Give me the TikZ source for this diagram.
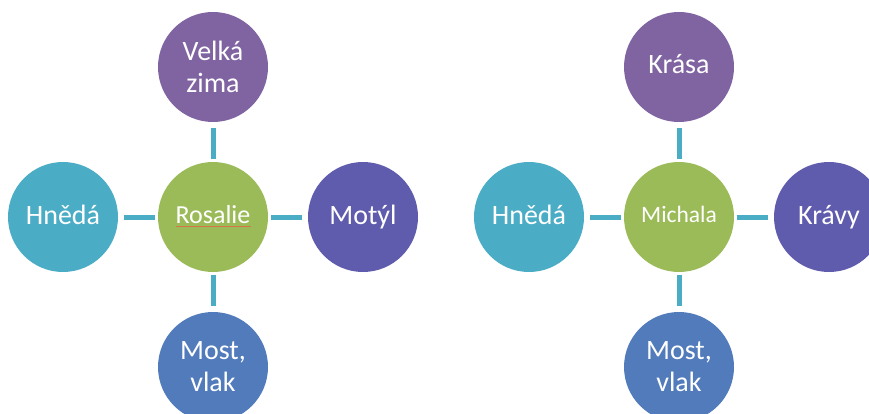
\documentclass[tikz,border=0pt]{standalone}
\usepackage{fontspec}
\setmainfont{Carlito}
\definecolor{cpurple}{HTML}{8064A2}
\definecolor{cgreen}{HTML}{9BBB59}
\definecolor{ccyan}{HTML}{4BACC6}
\definecolor{cviolet}{HTML}{5F5BAD}
\definecolor{cblue}{HTML}{527BBC}
\definecolor{cline}{HTML}{4BACC6}
\definecolor{cspell}{HTML}{D9734A}
\begin{document}
\begin{tikzpicture}[x=1pt,y=-1pt,
  bub/.style={circle,minimum size=110pt,inner sep=0pt,text=white,align=center,
    font=\fontsize{28}{32}\selectfont},
  one/.style={text height=21pt,text depth=7pt},
  link/.style={draw=cline,line width=5pt,shorten <=2.5pt,shorten >=5.5pt}]
\useasboundingbox (0,0) rectangle (869,414);
\clip (0,0) rectangle (869,414);
% left diagram
\node[bub,text height=19.5pt,text depth=6.5pt,fill=cgreen,font=\fontsize{26}{30}\selectfont] (c1) at (213,217) {Rosalie};
\node[bub,fill=cpurple] (t1) at (213,67) {Velká\\zima};
\node[bub,one,fill=ccyan] (l1) at (63,217) {Hnědá};
\node[bub,one,fill=cviolet] (r1) at (363,217) {Motýl};
\node[bub,fill=cblue] (b1) at (213,367) {Most,\\vlak};
\draw[link] (c1) -- (t1);
\draw[link] (c1) -- (l1);
\draw[link] (c1) -- (r1);
\draw[link] (c1) -- (b1);
\draw[draw=cspell,line width=0.5pt] (176,226) -- (251,226);
% right diagram
\node[bub,text height=17.6pt,text depth=5.9pt,fill=cgreen,font=\fontsize{23.5}{28}\selectfont] (c2) at (679,217) {Michala};
\node[bub,one,fill=cpurple] (t2) at (679,67) {Krása};
\node[bub,one,fill=ccyan] (l2) at (529,217) {Hnědá};
\node[bub,one,fill=cviolet] (r2) at (829,217) {Krávy};
\node[bub,fill=cblue] (b2) at (679,367) {Most,\\vlak};
\draw[link] (c2) -- (t2);
\draw[link] (c2) -- (l2);
\draw[link] (c2) -- (r2);
\draw[link] (c2) -- (b2);
\end{tikzpicture}
\end{document}
